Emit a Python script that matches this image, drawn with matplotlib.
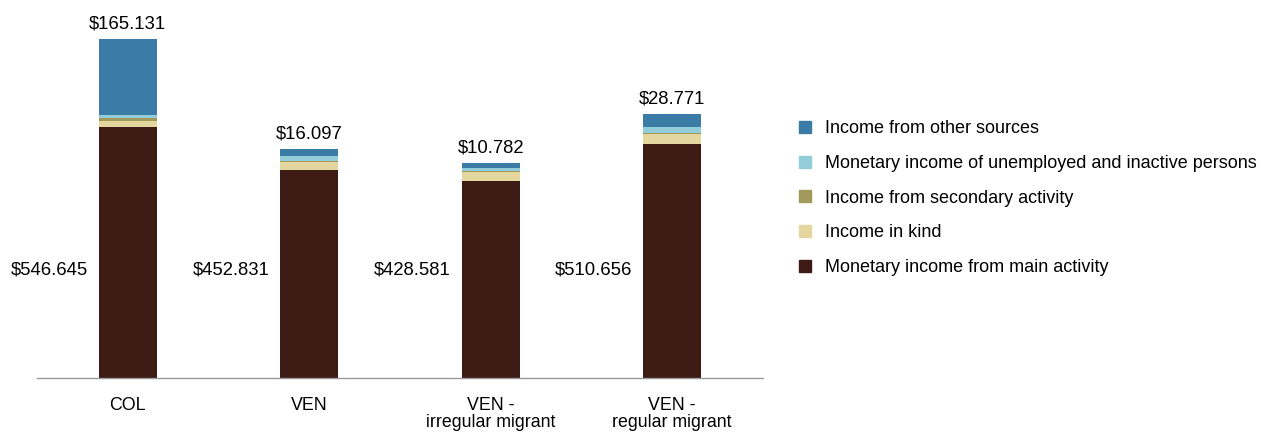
import matplotlib.pyplot as plt
from matplotlib.patches import Patch

plt.rcParams['font.family'] = ['Liberation Sans', 'DejaVu Sans']

# categories and stacked components
categories = ["COL", "VEN", "VEN -\nirregular migrant", "VEN -\nregular migrant"]
main_activity = [546.645, 452.831, 428.581, 510.656]
in_kind = [13, 17, 20, 20]
secondary = [7, 3, 3, 3]
unemployed = [7, 10, 7, 13]
other_sources = [165.131, 16.097, 10.782, 28.771]

series = [
    ("Monetary income from main activity", main_activity, "#3d1a13"),
    ("Income in kind", in_kind, "#e4d69f"),
    ("Income from secondary activity", secondary, "#a29a5c"),
    ("Monetary income of unemployed and inactive persons", unemployed, "#93cdda"),
    ("Income from other sources", other_sources, "#3b7ca6"),
]

fig = plt.figure(figsize=(12.62, 4.32), dpi=100)
ax = fig.add_axes([37 / 1262, 54 / 432, 726 / 1262, 358 / 432])

x = list(range(len(categories)))
w = 0.32
bottom = [0.0] * len(categories)
for name, vals, col in series:
    ax.bar(x, vals, w, bottom=bottom, color=col, edgecolor="none")
    bottom = [b + v for b, v in zip(bottom, vals)]

# labels
for i in x:
    ax.text(i - w / 2 - 0.06, 235, f"${main_activity[i]:.3f}", ha="right", va="center",
            fontsize=13.3)
    ax.text(i, bottom[i] + 14, f"${other_sources[i]:.3f}", ha="center", va="bottom",
            fontsize=13.3)

ax.set_xlim(-0.5, 3.5)
ax.set_ylim(0, 780)
ax.set_xticks(x)
ax.set_xticklabels(categories, fontsize=12.8, linespacing=1.0)
ax.tick_params(axis="x", length=0, pad=14)
ax.set_yticks([])
for s in ["top", "right", "left"]:
    ax.spines[s].set_visible(False)
ax.spines["bottom"].set_color("#999999")
ax.spines["bottom"].set_linewidth(1)

handles = [Patch(color=c, label=n) for n, v, c in reversed(series)]
fig.legend(handles=handles, loc="upper left", bbox_to_anchor=(783 / 1262, 1 - 104 / 432),
           frameon=False, fontsize=13, handlelength=0.65, handleheight=0.65,
           handletextpad=0.75, labelspacing=0.98)

fig.savefig("out.png", dpi=100)
